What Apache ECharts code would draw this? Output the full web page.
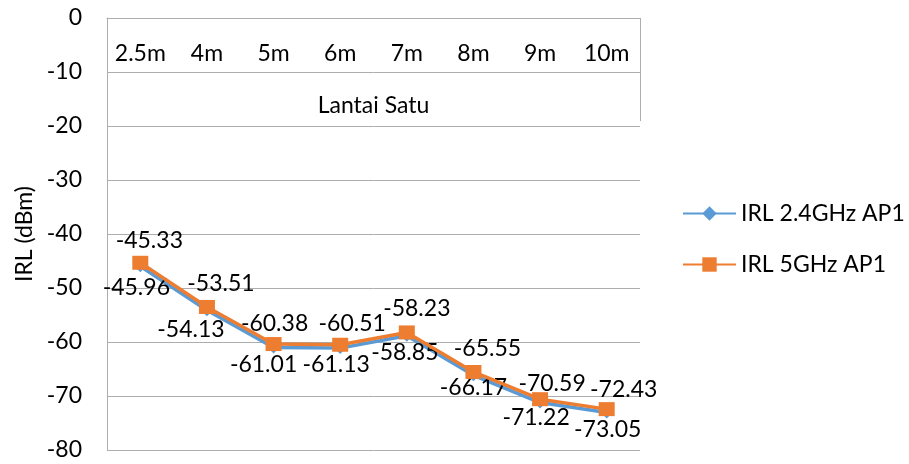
<!DOCTYPE html>
<html>
<head>
<meta charset="utf-8">
<script src="https://cdn.jsdelivr.net/npm/echarts@6/dist/echarts.min.js"></script>
<style>
  html, body { margin: 0; padding: 0; background: #fff; }
  #chart { width: 909px; height: 464px; }
</style>
</head>
<body>
<div id="chart"></div>
<script>
// Measurement distances and the floor they belong to
const distances = ['2.5m', '4m', '5m', '6m', '7m', '8m', '9m', '10m'];
const floorGroup = ['Lantai Satu'];

// Indoor received level per distance (dBm)
const irl24 = [-45.96, -54.13, -61.01, -61.13, -58.85, -66.17, -71.22, -73.05];
const irl5 = [-45.33, -53.51, -60.38, -60.51, -58.23, -65.55, -70.59, -72.43];

const seriesNames = ['IRL 2.4GHz AP1', 'IRL 5GHz AP1'];
const yMin = -80, yMax = 0, yStep = 10;
const yTitle = 'IRL (dBm)';

// Hand-placed value labels: [horizontal nudge, gap from point centre to label centre]
const nudge5 = [[9, 24], [14, 25], [1, 22], [12, 23], [10, 25], [14, 25], [12, 17], [17, 21]];
const nudge24 = [[-4, 24], [-16, 22], [-10, 20], [-4, 19], [-2, 19], [0, 15], [-4, 17], [1, 20]];

const FONT = 'Lato';
const FS = 23;
const TEXT = '#000';
const GRID = '#ADADAD';
const LABEL_PAD = 20; // half the rendered label box height

function withLabels(values, nudges, above) {
  return values.map((v, i) => ({
    value: v,
    label: {
      offset: [nudges[i][0], above ? -(nudges[i][1] - LABEL_PAD) : (nudges[i][1] - LABEL_PAD)]
    }
  }));
}

const chart = echarts.init(document.getElementById('chart'));
chart.setOption({
  animation: false,
  textStyle: { fontFamily: FONT },
  grid: { left: 107, right: 269, top: 18, bottom: 14, containLabel: false, outerBoundsMode: 'none' },
  legend: {
    orient: 'vertical',
    left: 677,
    top: 197,
    itemWidth: 53,
    itemHeight: 18,
    itemGap: 28,
    textStyle: { fontFamily: FONT, fontSize: FS, color: TEXT },
    data: seriesNames
  },
  xAxis: [
    {
      type: 'category',
      data: distances,
      position: 'top',
      boundaryGap: true,
      axisLine: { show: true, lineStyle: { color: GRID, width: 1 } },
      axisTick: { show: false },
      axisLabel: { inside: true, margin: 24, fontFamily: FONT, fontSize: FS, color: TEXT }
    },
    {
      type: 'category',
      data: floorGroup,
      position: 'top',
      boundaryGap: true,
      axisLine: { show: false },
      axisTick: { show: true, inside: true, length: 103, lineStyle: { color: GRID, width: 1 } },
      axisLabel: { inside: true, margin: 76, fontFamily: FONT, fontSize: FS, color: TEXT },
      splitLine: { show: false }
    }
  ],
  yAxis: {
    type: 'value',
    min: yMin,
    max: yMax,
    interval: yStep,
    name: yTitle,
    nameLocation: 'middle',
    nameRotate: 90,
    nameGap: 70,
    nameTextStyle: { fontFamily: FONT, fontSize: FS, color: TEXT },
    axisLine: { show: true, lineStyle: { color: GRID, width: 1 } },
    axisTick: { show: false },
    axisLabel: { margin: 25, fontFamily: FONT, fontSize: FS, color: TEXT },
    splitLine: { show: true, lineStyle: { color: GRID, width: 1 } }
  },
  series: [
    {
      name: seriesNames[0],
      type: 'line',
      xAxisIndex: 0,
      data: withLabels(irl24, nudge24, false),
      symbol: 'diamond',
      symbolSize: 12,
      showAllSymbol: true,
      lineStyle: { color: '#5B9BD5', width: 3.5 },
      itemStyle: { color: '#5B9BD5' },
      label: {
        show: true, position: 'bottom', distance: 0,
        fontFamily: FONT, fontSize: FS, color: TEXT,
        formatter: p => p.value.toFixed(2)
      },
      z: 2
    },
    {
      name: seriesNames[1],
      type: 'line',
      xAxisIndex: 0,
      data: withLabels(irl5, nudge5, true),
      symbol: 'rect',
      symbolSize: [16, 14],
      showAllSymbol: true,
      lineStyle: { color: '#ED7D31', width: 3.5 },
      itemStyle: { color: '#ED7D31' },
      label: {
        show: true, position: 'top', distance: 0,
        fontFamily: FONT, fontSize: FS, color: TEXT,
        formatter: p => p.value.toFixed(2)
      },
      z: 3
    }
  ]
});
</script>
</body>
</html>
